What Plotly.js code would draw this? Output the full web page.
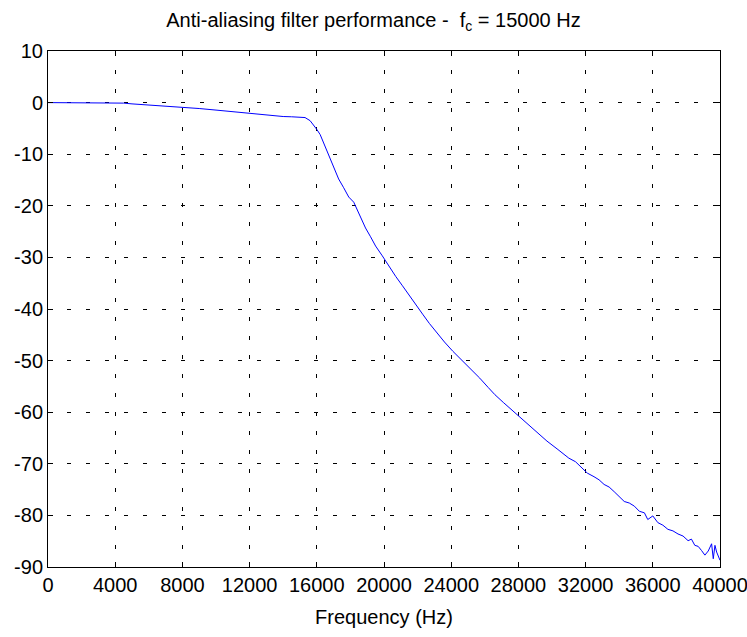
<!DOCTYPE html>
<html>
<head>
<meta charset="utf-8">
<script src="https://cdn.plot.ly/plotly-3.0.1.min.js"></script>
<style>html,body{margin:0;padding:0;background:#fff;}#chart{width:747px;height:637px;}</style>
</head>
<body>
<div id="chart"></div>
<script>
const freqHz = [0, 1000, 2000, 3000, 4000, 4500, 5000, 6000, 7000, 8000, 9000, 10000, 11000, 12000, 13000, 14000, 14500, 15000, 15300, 15600, 15800, 16000, 16200, 16400, 16700, 17000, 17300, 17600, 17900, 18200, 18500, 18900, 19200, 19500, 19900, 20300, 20700, 21100, 21500, 21800, 22300, 22700, 23100, 23600, 24100, 24700, 25200, 25700, 26200, 26600, 27100, 27700, 28400, 29100, 29700, 30300, 30600, 31000, 31400, 31700, 32100, 32500, 32800, 33100, 33400, 33700, 34000, 34300, 34600, 34900, 35200, 35500, 35700, 36000, 36300, 36600, 36900, 37200, 37500, 37800, 38100, 38300, 38500, 38700, 38900, 39100, 39300, 39500, 39600, 39700, 39800, 39900, 40000];
const magDb = [0, 0, 0, 0, -0.05, -0.1, -0.25, -0.45, -0.65, -0.95, -1.15, -1.45, -1.75, -2.1, -2.45, -2.7, -2.75, -2.8, -2.9, -3.5, -4.3, -5.2, -6.2, -7.8, -10, -12.3, -14.8, -16.5, -18.3, -19.3, -21.5, -24.3, -26, -27.8, -29.7, -31.8, -33.7, -35.5, -37.4, -38.8, -41.0, -42.8, -44.5, -46.4, -48.2, -50.1, -51.8, -53.4, -55.2, -56.6, -58.1, -59.8, -61.9, -63.9, -65.6, -67.1, -67.9, -68.9, -69.6, -70.6, -71.8, -72.5, -73.1, -74.0, -74.5, -75.4, -76.4, -77.3, -77.6, -78.2, -79.2, -79.5, -80.8, -80.1, -81.4, -81.9, -82.7, -83.0, -83.6, -84.0, -84.9, -84.6, -85.8, -86.0, -86.8, -87.7, -86.9, -85.5, -88.4, -85.8, -87.1, -87.8, -88.7];
const xTicks = [0, 4000, 8000, 12000, 16000, 20000, 24000, 28000, 32000, 36000, 40000];
const yTicks = [10, 0, -10, -20, -30, -40, -50, -60, -70, -80, -90];
const titleText = 'Anti-aliasing filter performance -  f<sub>c</sub> = 15000 Hz';
const xLabel = 'Frequency (Hz)';

const fontFam = 'Liberation Sans, Arial, sans-serif';
const trace = {
  x: freqHz, y: magDb, type: 'scatter', mode: 'lines',
  line: {color: '#0000ff', width: 1}, hoverinfo: 'skip'
};
const axisCommon = {
  showline: true, linecolor: '#000', linewidth: 1, mirror: 'ticks',
  ticks: 'inside', ticklen: 5, tickcolor: '#000', tickwidth: 1,
  showgrid: true, gridcolor: '#000', gridwidth: 1, griddash: '4px,15px',
  zeroline: false, ticklabeloverflow: 'allow',
  tickfont: {family: fontFam, size: 20, color: '#000'}
};
const layout = {
  width: 747, height: 637,
  margin: {l: 48, r: 27, t: 51, b: 70},
  paper_bgcolor: '#fff', plot_bgcolor: '#fff',
  showlegend: false,
  title: {text: titleText, x: 0.5, xref: 'container', xanchor: 'center',
          yref: 'container', y: 1 - 20 / 637, yanchor: 'middle',
          font: {family: fontFam, size: 20, color: '#000'}},
  xaxis: Object.assign({}, axisCommon, {
    range: [0, 40000], tickvals: xTicks, ticktext: xTicks.map(String),
    title: {text: xLabel, standoff: 14, font: {family: fontFam, size: 20, color: '#000'}}
  }),
  yaxis: Object.assign({}, axisCommon, {
    range: [-90, 10], tickvals: yTicks, ticktext: yTicks.map(String)
  })
};
Plotly.newPlot('chart', [trace], layout, {staticPlot: true, displayModeBar: false});
</script>
</body>
</html>
